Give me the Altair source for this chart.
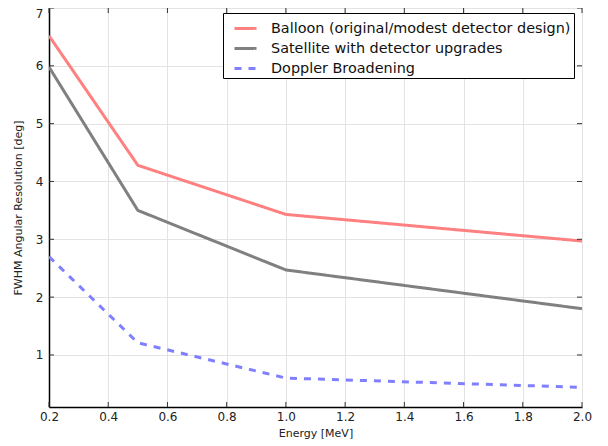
import altair as alt
import pandas as pd

energy = [0.2, 0.5, 1.0, 2.0]
balloon = [6.52, 4.28, 3.43, 2.97]
satellite = [5.98, 3.50, 2.47, 1.80]
doppler = [2.70, 1.21, 0.60, 0.44]

series_names = [
    "Balloon (original/modest detector design)",
    "Satellite with detector upgrades",
    "Doppler Broadening",
]
series_colors = ["#ff8080", "#808080", "#8080ff"]
series_dash = [[1, 0], [1, 0], [7, 7]]

x_ticks = [0.2, 0.4, 0.6, 0.8, 1.0, 1.2, 1.4, 1.6, 1.8, 2.0]
y_ticks = [1, 2, 3, 4, 5, 6, 7]

rows = []
for name, vals in zip(series_names, [balloon, satellite, doppler]):
    for e, v in zip(energy, vals):
        rows.append({"Energy": e, "Value": v, "Series": name})
df = pd.DataFrame(rows)

W, H = 533, 399
FONT = "DejaVu Sans"

xscale = alt.Scale(domain=[0.2, 2.0], nice=False, zero=False)
yscale = alt.Scale(domain=[0.1, 7], nice=False, zero=False)

axis_common = dict(grid=True, gridColor="#e3e3e3", ticks=False,
                   labelFontSize=12, titleFontSize=11, labelColor="#222",
                   titleColor="#222", domain=True, domainColor="#000",
                   domainWidth=1.5, labelFont=FONT, titleFont=FONT,
                   titleFontWeight="normal")

lines = alt.Chart(df).mark_line(strokeWidth=3, clip=True).encode(
    x=alt.X("Energy:Q", scale=xscale,
            axis=alt.Axis(title="Energy [MeV]", values=x_ticks, format=".1f",
                          labelPadding=4, titlePadding=5, labelFlush=False,
                          **axis_common)),
    y=alt.Y("Value:Q", scale=yscale,
            axis=alt.Axis(title="FWHM Angular Resolution [deg]", values=y_ticks,
                          format="d", labelPadding=6, titlePadding=12,
                          labelFlush=True, **axis_common)),
    color=alt.Color("Series:N", scale=alt.Scale(domain=series_names, range=series_colors),
                    legend=alt.Legend(title=None, orient="none", legendX=174, legendY=5,
                                      symbolType="stroke", symbolStrokeWidth=3,
                                      symbolSize=484, symbolOffset=7,
                                      labelFontSize=14.4, labelFont=FONT,
                                      labelColor="#111", labelOffset=13, rowPadding=1,
                                      padding=3, strokeColor="#000", fillColor="#fff",
                                      labelLimit=400)),
    strokeDash=alt.StrokeDash("Series:N", scale=alt.Scale(domain=series_names, range=series_dash),
                              legend=None),
    order=alt.Order("Energy:Q"),
)

xt = pd.DataFrame({"t": x_ticks})
yt = pd.DataFrame({"t": y_ticks})
tl = 5
tick_style = dict(color="#333", strokeWidth=1)
xb = alt.Chart(xt).mark_rule(**tick_style).encode(x=alt.X("t:Q", scale=xscale), y=alt.value(H), y2=alt.value(H - tl))
xtop = alt.Chart(xt).mark_rule(**tick_style).encode(x=alt.X("t:Q", scale=xscale), y=alt.value(0), y2=alt.value(tl))
yl = alt.Chart(yt).mark_rule(**tick_style).encode(y=alt.Y("t:Q", scale=yscale), x=alt.value(0), x2=alt.value(tl))
yr = alt.Chart(yt).mark_rule(**tick_style).encode(y=alt.Y("t:Q", scale=yscale), x=alt.value(W), x2=alt.value(W - tl))

chart = alt.layer(lines, xb, xtop, yl, yr).properties(
    width=W, height=H,
    autosize=alt.AutoSizeParams(type="none"),
    padding={"left": 41, "top": 0, "right": 18, "bottom": 38},
).configure_view(stroke="#000", strokeWidth=1.5).configure(background="white")

chart.save("out.html", embed_options={"renderer": "svg", "actions": False})
